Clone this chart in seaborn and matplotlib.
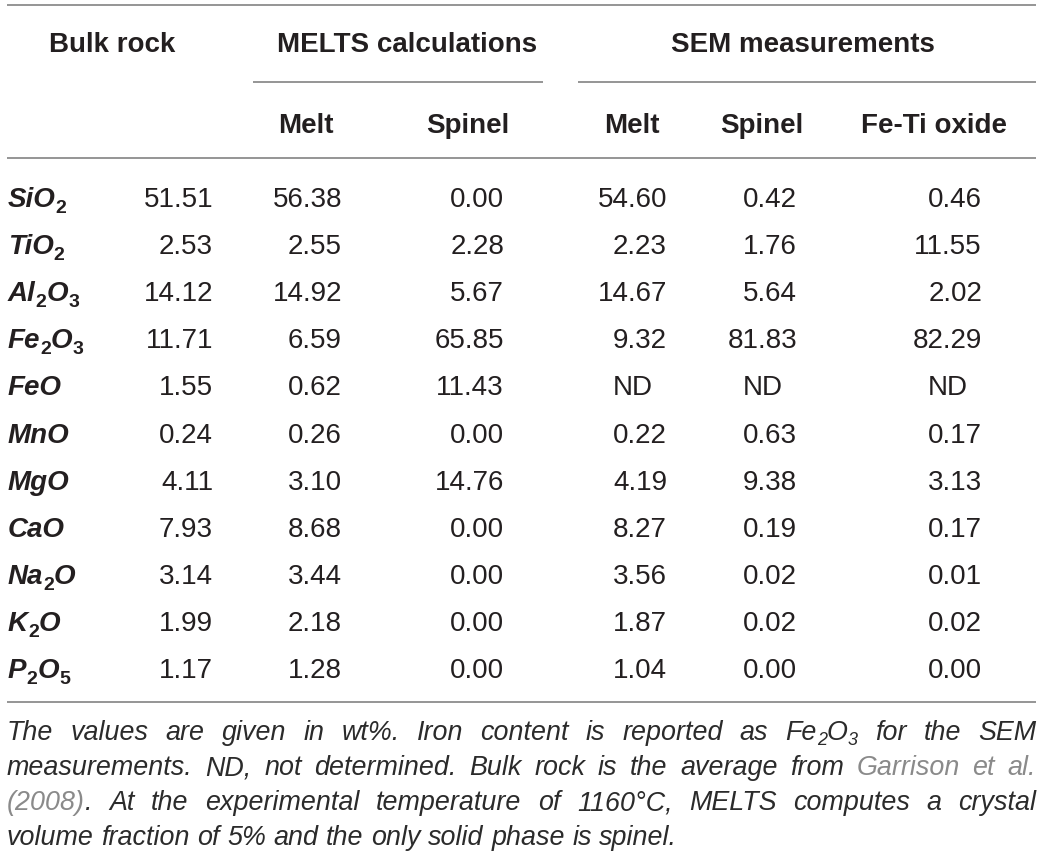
import matplotlib
matplotlib.use("Agg")
import matplotlib.pyplot as plt
import seaborn as sns
import pandas as pd

sns.set_theme(style="white")
plt.rcParams['font.family'] = ['Liberation Sans', 'DejaVu Sans']

# ---------------- data ----------------
oxide_labels = [
    [("SiO", 0), ("2", 1)],
    [("TiO", 0), ("2", 1)],
    [("Al", 0), ("2", 1), ("O", 0), ("3", 1)],
    [("Fe", 0), ("2", 1), ("O", 0), ("3", 1)],
    [("FeO", 0)],
    [("MnO", 0)],
    [("MgO", 0)],
    [("CaO", 0)],
    [("Na", 0), ("2", 1), ("O", 0)],
    [("K", 0), ("2", 1), ("O", 0)],
    [("P", 0), ("2", 1), ("O", 0), ("5", 1)],
]
bulk_rock = [51.51, 2.53, 14.12, 11.71, 1.55, 0.24, 4.11, 7.93, 3.14, 1.99, 1.17]
melts_melt = [56.38, 2.55, 14.92, 6.59, 0.62, 0.26, 3.10, 8.68, 3.44, 2.18, 1.28]
melts_spinel = [0.00, 2.28, 5.67, 65.85, 11.43, 0.00, 14.76, 0.00, 0.00, 0.00, 0.00]
sem_melt = [54.60, 2.23, 14.67, 9.32, None, 0.22, 4.19, 8.27, 3.56, 1.87, 1.04]
sem_spinel = [0.42, 1.76, 5.64, 81.83, None, 0.63, 9.38, 0.19, 0.02, 0.02, 0.00]
sem_feti = [0.46, 11.55, 2.02, 82.29, None, 0.17, 3.13, 0.17, 0.01, 0.02, 0.00]

group_headers = ["Bulk rock", "MELTS calculations", "SEM measurements"]
sub_headers = ["Melt", "Spinel", "Melt", "Spinel", "Fe-Ti oxide"]
missing_label = "ND"

df = pd.DataFrame({
    "bulk": bulk_rock, "mmelt": melts_melt, "mspinel": melts_spinel,
    "smelt": sem_melt, "sspinel": sem_spinel, "sfeti": sem_feti,
})

# ---------------- layout ----------------
W, H = 1046, 863
fig = plt.figure(figsize=(W / 100, H / 100), dpi=100)
ax = fig.add_axes([0, 0, 1, 1])
ax.set_xlim(0, W)
ax.set_ylim(H, 0)
ax.axis("off")
renderer = fig.canvas.get_renderer()

TXT = "#231f20"
FOOT = "#2b2b2b"
RULE = "#8c8c8c"
LINK = "#8a8a8a"
LEFT, RIGHT = 7, 1036

col_right = [213, 342, 504, 667, 797, 982]
sub_centers = [306, 468, 632, 762, 934]
group_centers = [112, 407, 803]
row_y0, row_dy = 197, 47.1
FS = 20


def width_of(t):
    return t.get_window_extent(renderer).width


def draw_runs(x, y, segs, size, weight="normal", style="normal", color=TXT,
              sub_size=13, sub_dy=6, sub_style=None, ha="left"):
    """segs: list of (text, is_sub[, color]). y is baseline."""
    arts = []
    total = 0
    for seg in segs:
        s, sub = seg[0], seg[1]
        c = seg[2] if len(seg) > 2 else color
        st = style if not sub or sub_style is None else sub_style
        t = ax.text(0, y + (sub_dy if sub else 0), s, fontsize=sub_size if sub else size,
                    fontweight=weight, fontstyle=st, color=c, va="baseline", ha="left")
        w = width_of(t)
        arts.append((t, w))
        total += w
    if ha == "right":
        x = x - total
    elif ha == "center":
        x = x - total / 2
    for t, w in arts:
        t.set_x(x)
        x += w
    return total


# rules
ax.hlines([5], LEFT, RIGHT, color=RULE, lw=1.3)
ax.hlines([82], 253, 543, color=RULE, lw=1.3)
ax.hlines([82], 578, RIGHT, color=RULE, lw=1.3)
ax.hlines([158], LEFT, RIGHT, color=RULE, lw=1.3)
ax.hlines([702], LEFT, RIGHT, color=RULE, lw=1.3)

# headers
for cx, lab in zip(group_centers, group_headers):
    ax.text(cx, 52, lab, fontsize=FS, fontweight="bold", color=TXT, ha="center", va="baseline")
for cx, lab in zip(sub_centers, sub_headers):
    ax.text(cx, 133, lab, fontsize=FS, fontweight="bold", color=TXT, ha="center", va="baseline")

# width of a 4-char number for ND alignment
probe = ax.text(0, 0, "0.00", fontsize=FS)
w4 = width_of(probe)
probe.remove()

# rows
for i, segs in enumerate(oxide_labels):
    yb = row_y0 + i * row_dy + 10
    draw_runs(LEFT + 1, yb, segs, FS, weight="bold", style="italic",
              sub_size=14, sub_dy=6, sub_style="normal")
    for j, col in enumerate(df.columns):
        v = df[col].iloc[i]
        if pd.isna(v):
            ax.text(col_right[j] - w4, yb, missing_label, fontsize=FS, color=TXT,
                    ha="left", va="baseline")
        else:
            ax.text(col_right[j], yb, f"{v:.2f}", fontsize=FS, color=TXT,
                    ha="right", va="baseline")

# footnote
FN = 19.4
FSUB = 13
foot_lines = [
    [[("The", 0)], [("values", 0)], [("are", 0)], [("given", 0)], [("in", 0)], [("wt%.", 0)],
     [("Iron", 0)], [("content", 0)], [("is", 0)], [("reported", 0)], [("as", 0)],
     [("Fe", 0), ("2", 1), ("O", 0), ("3", 1)], [("for", 0)], [("the", 0)], [("SEM", 0)]],
    [[("measurements.", 0)], [("ND,", 0)], [("not", 0)], [("determined.", 0)], [("Bulk", 0)],
     [("rock", 0)], [("is", 0)], [("the", 0)], [("average", 0)], [("from", 0)],
     [("Garrison", 0, LINK)], [("et", 0, LINK)], [("al.", 0, LINK)]],
    [[("(2008)", 0, LINK), (".", 0)], [("At", 0)], [("the", 0)], [("experimental", 0)],
     [("temperature", 0)], [("of", 0)], [("1160°C,", 0)], [("MELTS", 0)], [("computes", 0)],
     [("a", 0)], [("crystal", 0)]],
    [[("volume", 0)], [("fraction", 0)], [("of", 0)], [("5%", 0)], [("and", 0)], [("the", 0)],
     [("only", 0)], [("solid", 0)], [("phase", 0)], [("is", 0)], [("spinel.", 0)]],
]
foot_base = [740, 775, 810, 845]

for li, (words, yb) in enumerate(zip(foot_lines, foot_base)):
    widths = []
    for wsegs in words:
        tot = 0
        for seg in wsegs:
            t = ax.text(0, 0, seg[0], fontsize=FSUB if seg[1] else FN, fontstyle="italic")
            tot += width_of(t)
            t.remove()
        widths.append(tot)
    justify = li < len(foot_lines) - 1
    if justify:
        gap = (RIGHT - LEFT - sum(widths)) / (len(words) - 1)
    else:
        sp = ax.text(0, 0, "a a", fontsize=FN, fontstyle="italic")
        sp2 = ax.text(0, 0, "aa", fontsize=FN, fontstyle="italic")
        gap = width_of(sp) - width_of(sp2)
        sp.remove(); sp2.remove()
    x = LEFT
    for wsegs, w in zip(words, widths):
        draw_runs(x, yb, wsegs, FN, style="italic", color=FOOT, sub_size=FSUB, sub_dy=5)
        x += w + gap

fig.savefig("out.png", dpi=100, facecolor="white")
